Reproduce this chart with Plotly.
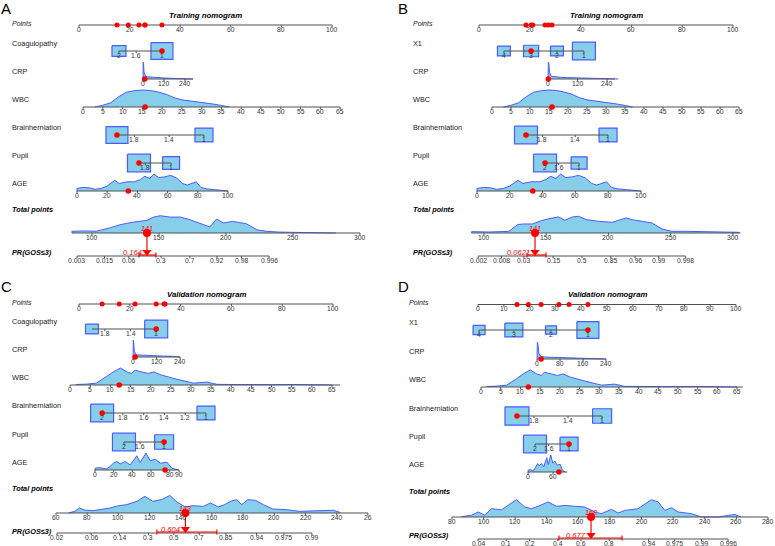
import numpy as np
import plotly.graph_objects as go

# ===================== DATA =====================
panel_letters = ["A", "B", "C", "D"]
panel_titles = ["Training nomogram", "Training nomogram",
                "Validation nomogram", "Validation nomogram"]
rows_AC = ["Coagulopathy", "CRP", "WBC", "Brainherniation", "Pupil", "AGE"]
rows_BD = ["X1", "CRP", "WBC", "Brainherniation", "Pupil", "AGE"]
pr_label = "PR(GOS≤3)"

points_ticks_A = [0, 20, 40, 60, 80, 100]
points_ticks_B = [0, 20, 40, 60, 80, 100]
points_ticks_C = [0, 20, 40, 60, 80, 100]
points_ticks_D = [0, 10, 20, 30, 40, 50, 60, 70, 80, 90, 100]

# categorical predictors: level codes, nomogram points of each level,
# relative level frequency (box size), values printed on the scale
A_coag_levels = [2, 1];  A_coag_points = [15.8, 32.8];  A_coag_freq = [0.26, 0.64];  A_coag_ticks = [2, 1.6, 1]
A_brain_levels = [2, 1]; A_brain_points = [15.0, 49.4]; A_brain_freq = [0.64, 0.43]; A_brain_ticks = [1.8, 1.4, 1]
A_pupil_levels = [2, 1]; A_pupil_points = [23.7, 36.4]; A_pupil_freq = [0.70, 0.38]; A_pupil_ticks = [1.8, 1]

B_x1_levels = [4, 3, 2, 1];  B_x1_points = [9.8, 20.5, 30.7, 41.3]; B_x1_freq = [0.22, 0.30, 0.22, 0.70]; B_x1_ticks = [4, 3, 2, 1]
B_brain_levels = [2, 1]; B_brain_points = [18.5, 50.8]; B_brain_freq = [0.70, 0.43]; B_brain_ticks = [1.8, 1.4, 1]
B_pupil_levels = [2, 1]; B_pupil_points = [26.0, 39.4]; B_pupil_freq = [0.70, 0.34]; B_pupil_ticks = [2, 1.6, 1]

C_coag_levels = [2, 1];  C_coag_points = [5.1, 30.4];   C_coag_freq = [0.22, 0.70];  C_coag_ticks = [1.8, 1.4, 1]
C_brain_levels = [2, 1]; C_brain_points = [9.1, 50.0];  C_brain_freq = [0.70, 0.43]; C_brain_ticks = [2, 1.8, 1.6, 1.4, 1.2, 1]
C_pupil_levels = [2, 1]; C_pupil_points = [17.7, 33.5]; C_pupil_freq = [0.70, 0.48]; C_pupil_ticks = [2, 1.6, 1]

D_x1_levels = [4, 3, 2, 1];  D_x1_points = [0.4, 13.9, 28.3, 42.6]; D_x1_freq = [0.19, 0.43, 0.16, 0.64]; D_x1_ticks = [4, 3, 2, 1]
D_brain_levels = [2, 1]; D_brain_points = [15.1, 48.1]; D_brain_freq = [0.76, 0.48]; D_brain_ticks = [1.8, 1.4, 1]
D_pupil_levels = [2, 1]; D_pupil_points = [22.1, 35.3]; D_pupil_freq = [0.70, 0.43]; D_pupil_ticks = [2, 1.6, 1]

# continuous predictors: two anchor values and their nomogram points, axis extent, ticks
A_crp_values = [0, 240]; A_crp_points = [25.3, 41.9]; A_crp_axis = [0, 286]; A_crp_ticks = [0, 120, 240]
A_wbc_values = [0, 65];  A_wbc_points = [1.6, 103.2]; A_wbc_axis = [0, 65]
A_age_values = [0, 100]; A_age_points = [-0.8, 58.9]; A_age_axis = [0, 100]; A_age_ticks = [0, 20, 40, 60, 80, 100]

B_crp_values = [0, 240]; B_crp_points = [27.2, 50.4]; B_crp_axis = [0, 272]; B_crp_ticks = [0, 120, 240]
B_wbc_values = [0, 65];  B_wbc_points = [5.1, 102.4]; B_wbc_axis = [0, 65]
B_age_values = [0, 100]; B_age_points = [-0.8, 63.8]; B_age_axis = [0, 100]; B_age_ticks = [0, 20, 40, 60, 80, 100]

C_crp_values = [0, 240]; C_crp_points = [21.3, 39.8]; C_crp_axis = [0, 240]; C_crp_ticks = [0, 120, 240]
C_wbc_values = [0, 65];  C_wbc_points = [-3.5, 99.6]; C_wbc_axis = [0, 67]
C_age_values = [0, 90];  C_age_points = [6.3, 39.4];  C_age_axis = [0, 90];  C_age_ticks = [0, 20, 40, 60, 80, 90]

D_crp_values = [0, 240]; D_crp_points = [22.9, 49.6]; D_crp_axis = [0, 240]; D_crp_ticks = [0, 80, 160, 240]
D_wbc_values = [0, 65];  D_wbc_points = [1.2, 100.4]; D_wbc_axis = [0, 66.5]
D_age_values = [0, 60];  D_age_points = [19.4, 29.1]; D_age_axis = [0, 94];  D_age_ticks = [0, 60]

wbc_ticks = [0, 5, 10, 15, 20, 25, 30, 35, 40, 45, 50, 55, 60, 65]

# densities of the predictors (relative heights)
train_crp_x = [0, 1, 3, 6, 10, 15, 25, 50, 80, 120, 160, 200, 240, 286]
train_crp_d = [0.0, 1.0, 0.9, 0.4, 0.2, 0.16, 0.13, 0.1, 0.08, 0.06, 0.04, 0.02, 0.01, 0.0]
train_wbc_x = [3, 5, 7, 9, 11, 13, 15, 17, 19, 21, 23, 25, 27, 29, 31, 33, 35, 37]
train_wbc_d = [0.0, 0.1, 0.25, 0.6, 0.87, 0.96, 1.0, 0.97, 0.88, 0.75, 0.55, 0.42, 0.36, 0.31, 0.25, 0.17, 0.09, 0.02]
train_age_x = [0, 4, 8, 12, 16, 20, 25, 28, 33, 38, 42, 45, 48, 51, 54, 58, 62, 66, 70, 73, 76, 79, 82, 86, 91, 100]
train_age_d = [0.15, 0.21, 0.19, 0.1, 0.15, 0.29, 0.63, 0.44, 0.54, 0.54, 0.67, 0.87, 0.73, 1.0, 0.79, 0.83,
               0.92, 0.77, 0.44, 0.35, 0.44, 0.54, 0.21, 0.12, 0.08, 0.0]
valid_crp_x = [0, 1, 3, 6, 10, 15, 25, 50, 80, 120, 160, 200, 240]
valid_crp_d = [0.0, 1.0, 0.85, 0.35, 0.2, 0.15, 0.12, 0.1, 0.09, 0.07, 0.05, 0.04, 0.02]
valid_wbc_x = [1.5, 4, 6.5, 9, 10.7, 12.5, 14.1, 15.3, 16.1, 17.8, 19.4, 20.8, 22.7, 26.5, 29, 30.6, 33.9,
               36.4, 40, 45, 50, 55, 60, 65]
valid_wbc_d = [0.03, 0.05, 0.11, 0.49, 0.77, 1.0, 0.77, 0.68, 0.87, 0.77, 0.68, 0.77, 0.58, 0.34, 0.21, 0.11,
               0.17, 0.04, 0.03, 0.01, 0.02, 0.03, 0.01, 0.03]
valid_age_x = [0, 5, 12, 16, 19.7, 23.3, 26.9, 32.3, 37.6, 43, 44.8, 48.4, 54.5, 59.1, 64.5, 69.9, 77, 82.4, 89.6]
valid_age_d = [0.1, 0.14, 0.06, 0.2, 0.4, 0.5, 0.36, 0.5, 0.3, 0.7, 0.84, 0.44, 1.0, 0.54, 0.64, 0.4, 0.46, 0.1, 0.04]

# total points scale: two anchor totals and their position in points units, extent, ticks
A_total_values = [100, 300]; A_total_points = [5.14, 111.06]; A_total_axis = [85, 300]
B_total_values = [100, 300]; B_total_points = [1.97, 99.97];  B_total_axis = [90, 306]
C_total_values = [60, 260];  C_total_points = [-9.06, 113.74]; C_total_axis = [60, 260]
D_total_values = [80, 280];  D_total_points = [-10.08, 112.4]; D_total_axis = [80, 280]
A_total_ticks = [100, 150, 200, 250, 300]
B_total_ticks = [100, 150, 200, 250, 300]
C_total_ticks = [60, 80, 100, 120, 140, 160, 180, 200, 220, 240, 260]
C_total_tick_labels = ["60", "80", "100", "120", "140", "160", "180", "200", "220", "240", "26"]
D_total_ticks = [80, 100, 120, 140, 160, 180, 200, 220, 240, 260, 280]

A_total_x = [85, 95, 103, 113, 121, 131, 141, 146, 151, 158, 166, 173, 180, 188, 193, 198, 205, 215, 223,
             230, 240, 250, 265, 282]
A_total_d = [0.1, 0.12, 0.1, 0.29, 0.48, 0.63, 0.73, 0.92, 1.0, 0.92, 0.92, 0.77, 0.58, 0.35, 0.81, 0.58, 0.67,
             0.54, 0.19, 0.1, 0.05, 0.04, 0.04, 0.03]
B_total_x = [90, 105, 120, 127, 131, 139, 147, 155, 160, 165, 171, 176, 182, 192, 203, 214, 219, 227, 235,
             243, 251, 262, 289, 305]
B_total_d = [0.08, 0.06, 0.1, 0.5, 0.54, 0.54, 0.76, 0.9, 0.96, 0.76, 0.96, 1.0, 0.8, 0.7, 0.64, 0.9, 0.8, 0.7,
             0.6, 0.24, 0.1, 0.1, 0.08, 0.04]
C_total_x = [68, 72, 75, 79, 84, 94.6, 100, 105, 112, 117, 122, 127.7, 133, 137, 142.7, 148, 154.5, 159, 164,
             168, 172, 175.8, 179, 183, 188, 193, 199, 208, 216, 229, 237.8, 242]
C_total_d = [0.0, 0.09, 0.27, 0.15, 0.13, 0.27, 0.4, 0.45, 0.64, 0.91, 0.64, 0.73, 0.96, 0.64, 0.33, 0.4, 0.36,
             0.55, 0.33, 0.45, 0.64, 0.73, 0.45, 0.73, 0.69, 0.45, 0.22, 0.18, 0.09, 0.13, 0.15, 0.04]
D_total_x = [86, 92.4, 96.6, 100.8, 105, 111.3, 115.5, 120.8, 126, 130.3, 134.5, 140.8, 146.1, 151.4, 157.7,
             164, 170.4, 174.6, 180.9, 185.1, 189.4, 197.8, 206.2, 210.5, 214.7, 218.9, 223.1, 231.6, 237.9,
             248.4, 259, 263]
D_total_d = [0.02, 0.1, 0.29, 0.1, 0.48, 0.42, 0.67, 1.0, 0.58, 0.48, 0.62, 0.87, 0.62, 0.67, 0.62, 0.58, 0.29,
             0.19, 0.44, 0.23, 0.38, 0.48, 1.0, 0.87, 0.38, 0.54, 0.29, 0.19, 0.0, 0.0, 0.15, 0.0]

# probability scale: total points at p = 0.5 and total points per logit unit, ticks
A_pr_center = 162.3; A_pr_slope = 12.66; A_pr_ticks = [0.003, 0.015, 0.06, 0.3, 0.7, 0.92, 0.98, 0.996]
B_pr_center = 178.7; B_pr_slope = 13.41; B_pr_ticks = [0.002, 0.008, 0.03, 0.15, 0.5, 0.85, 0.96, 0.99, 0.998]
C_pr_center = 135.6; C_pr_slope = 19.26; C_pr_ticks = [0.02, 0.06, 0.14, 0.3, 0.5, 0.7, 0.85, 0.94, 0.975, 0.99]
D_pr_center = 154.3; D_pr_slope = 18.2;  D_pr_ticks = [0.04, 0.1, 0.2, 0.4, 0.6, 0.8, 0.94, 0.975, 0.99, 0.996]

# highlighted patient: predictor values (row order), total points, probability, CI
A_obs = [1, 10, 15.7, 2, 2, 34];  A_total = 141; A_prob = 0.164;  A_ci = [0.104, 0.240]
B_obs = [3, 1, 15.8, 2, 2, 34];   B_total = 141; B_prob = 0.0621; B_ci = [0.036, 0.104]
C_obs = [1, 10, 12.2, 2, 1, 75];  C_total = 143; C_prob = 0.604;  C_ci = [0.362, 0.807]
D_obs = [1, 14, 12, 2, 1, 74];    D_total = 168; D_prob = 0.677;  D_ci = [0.41, 0.862]

# ===================== STYLE / LAYOUT =====================
W, H = 775, 546
FONT = "Liberation Sans, Arial, Helvetica, sans-serif"
FILL = "#87CEEB"
EDGE = "#4A5CFF"
AXC = "#505050"
TXT = "#222222"
RED = "#FF0000"
BOX_W, BOX_H = 27.5, 21.0
TICK_FS, LAB_FS, TITLE_FS = 6.8, 7.3, 7.8
NUM_H = 17

geom = [
    dict(xd=(0, 387.5), yd=(0, 273), origin=79, scale=2.53, lab_x=11, letter=(6, 8), title_y=15, pts_y=25,
         rows_y=[51, 79, 107, 135, 163, 191], total_y=233, total_lab_y=209, pr_y=256, pr_lab_y=252, total_h=17.3),
    dict(xd=(387.5, 775), yd=(0, 273), origin=479, scale=2.54, lab_x=412, letter=(403, 8), title_y=15, pts_y=25,
         rows_y=[51, 79, 107, 135, 163, 191], total_y=233, total_lab_y=209, pr_y=256, pr_lab_y=252, total_h=16.7),
    dict(xd=(0, 387.5), yd=(273, 546), origin=79, scale=2.54, lab_x=11, letter=(6, 286), title_y=294, pts_y=304,
         rows_y=[329, 357, 385, 413, 442, 470], total_y=513, total_lab_y=488, pr_y=533, pr_lab_y=531, total_h=18.3),
    dict(xd=(387.5, 775), yd=(273, 546), origin=478, scale=2.58, lab_x=408, letter=(403, 286), title_y=294,
         pts_y=304.5, rows_y=[330, 359, 387, 416, 444, 472], total_y=517, total_lab_y=491, pr_y=539,
         pr_lab_y=535, total_h=17.3),
]


def cat(levels, points, freq, ticks):
    return dict(kind="cat", levels=levels, points=points, freq=freq, ticks=ticks)


def num(values, points, axis, ticks, dx, dy):
    return dict(kind="num", values=values, points=points, axis=axis, ticks=ticks, dx=dx, dy=dy)


panels = [
    dict(points_ticks=points_ticks_A, names=rows_AC, obs=A_obs, total=A_total, prob=A_prob, ci=A_ci,
         rows=[cat(A_coag_levels, A_coag_points, A_coag_freq, A_coag_ticks),
               num(A_crp_values, A_crp_points, A_crp_axis, A_crp_ticks, train_crp_x, train_crp_d),
               num(A_wbc_values, A_wbc_points, A_wbc_axis, wbc_ticks, train_wbc_x, train_wbc_d),
               cat(A_brain_levels, A_brain_points, A_brain_freq, A_brain_ticks),
               cat(A_pupil_levels, A_pupil_points, A_pupil_freq, A_pupil_ticks),
               num(A_age_values, A_age_points, A_age_axis, A_age_ticks, train_age_x, train_age_d)],
         tv=A_total_values, tp=A_total_points, taxis=A_total_axis, tticks=A_total_ticks,
         tlabels=[f"{v:g}" for v in A_total_ticks], tdx=A_total_x, tdy=A_total_d,
         prc=A_pr_center, prs=A_pr_slope, prticks=A_pr_ticks),
    dict(points_ticks=points_ticks_B, names=rows_BD, obs=B_obs, total=B_total, prob=B_prob, ci=B_ci,
         rows=[cat(B_x1_levels, B_x1_points, B_x1_freq, B_x1_ticks),
               num(B_crp_values, B_crp_points, B_crp_axis, B_crp_ticks, train_crp_x, train_crp_d),
               num(B_wbc_values, B_wbc_points, B_wbc_axis, wbc_ticks, train_wbc_x, train_wbc_d),
               cat(B_brain_levels, B_brain_points, B_brain_freq, B_brain_ticks),
               cat(B_pupil_levels, B_pupil_points, B_pupil_freq, B_pupil_ticks),
               num(B_age_values, B_age_points, B_age_axis, B_age_ticks, train_age_x, train_age_d)],
         tv=B_total_values, tp=B_total_points, taxis=B_total_axis, tticks=B_total_ticks,
         tlabels=[f"{v:g}" for v in B_total_ticks], tdx=B_total_x, tdy=B_total_d,
         prc=B_pr_center, prs=B_pr_slope, prticks=B_pr_ticks),
    dict(points_ticks=points_ticks_C, names=rows_AC, obs=C_obs, total=C_total, prob=C_prob, ci=C_ci,
         rows=[cat(C_coag_levels, C_coag_points, C_coag_freq, C_coag_ticks),
               num(C_crp_values, C_crp_points, C_crp_axis, C_crp_ticks, valid_crp_x, valid_crp_d),
               num(C_wbc_values, C_wbc_points, C_wbc_axis, wbc_ticks, valid_wbc_x, valid_wbc_d),
               cat(C_brain_levels, C_brain_points, C_brain_freq, C_brain_ticks),
               cat(C_pupil_levels, C_pupil_points, C_pupil_freq, C_pupil_ticks),
               num(C_age_values, C_age_points, C_age_axis, C_age_ticks, valid_age_x, valid_age_d)],
         tv=C_total_values, tp=C_total_points, taxis=C_total_axis, tticks=C_total_ticks,
         tlabels=C_total_tick_labels, tdx=C_total_x, tdy=C_total_d,
         prc=C_pr_center, prs=C_pr_slope, prticks=C_pr_ticks),
    dict(points_ticks=points_ticks_D, names=rows_BD, obs=D_obs, total=D_total, prob=D_prob, ci=D_ci,
         rows=[cat(D_x1_levels, D_x1_points, D_x1_freq, D_x1_ticks),
               num(D_crp_values, D_crp_points, D_crp_axis, D_crp_ticks, valid_crp_x, valid_crp_d),
               num(D_wbc_values, D_wbc_points, D_wbc_axis, wbc_ticks, valid_wbc_x, valid_wbc_d),
               cat(D_brain_levels, D_brain_points, D_brain_freq, D_brain_ticks),
               cat(D_pupil_levels, D_pupil_points, D_pupil_freq, D_pupil_ticks),
               num(D_age_values, D_age_points, D_age_axis, D_age_ticks, valid_age_x, valid_age_d)],
         tv=D_total_values, tp=D_total_points, taxis=D_total_axis, tticks=D_total_ticks,
         tlabels=[f"{v:g}" for v in D_total_ticks], tdx=D_total_x, tdy=D_total_d,
         prc=D_pr_center, prs=D_pr_slope, prticks=D_pr_ticks),
]


def lin(v, vals, pts):
    v = np.asarray(v, dtype=float)
    return pts[0] + (v - vals[0]) * (pts[1] - pts[0]) / (vals[1] - vals[0])


def cat_map(v, levels, pts):
    lv = np.asarray(levels, float)
    p = np.asarray(pts, float)
    o = np.argsort(lv)
    return np.interp(np.asarray(v, float), lv[o], p[o])


def logit(p):
    p = np.asarray(p, float)
    return np.log(p / (1 - p))


fig = go.Figure()
ann = []
layout_axes = {}

for i, (P, G) in enumerate(zip(panels, geom)):
    xa, ya = ("x", "y") if i == 0 else (f"x{i + 1}", f"y{i + 1}")
    s, o = G["scale"], G["origin"]
    xr = [(G["xd"][0] - o) / s, (G["xd"][1] - o) / s]
    layout_axes["xaxis" if i == 0 else f"xaxis{i + 1}"] = dict(
        domain=[G["xd"][0] / W, G["xd"][1] / W], range=xr, visible=False, fixedrange=True,
        anchor=ya)
    layout_axes["yaxis" if i == 0 else f"yaxis{i + 1}"] = dict(
        domain=[1 - G["yd"][1] / H, 1 - G["yd"][0] / H], range=[G["yd"][1], G["yd"][0]],
        visible=False, fixedrange=True, anchor=xa)

    def X(px):
        return (px - o) / s

    def add(x, y, **kw):
        fig.add_trace(go.Scatter(x=list(x), y=list(y), xaxis=xa, yaxis=ya, showlegend=False,
                                 hoverinfo="skip", **kw))

    def text(x, y, t, size, color=TXT, xanchor="center", yanchor="middle"):
        ann.append(dict(x=float(x), y=float(y), xref=xa, yref=ya, text=t, showarrow=False,
                        font=dict(family=FONT, size=size, color=color),
                        xanchor=xanchor, yanchor=yanchor, borderpad=0))

    def axis_line(x0, x1, y, tx, labels, up=False, color=AXC, lab_dy=4.3):
        add([x0, x1], [y, y], mode="lines", line=dict(color=color, width=1))
        xs, ys = [], []
        for t in tx:
            xs += [float(t), float(t), None]
            ys += [y, y + (-2.2 if up else 2.2), None]
        add(xs, ys, mode="lines", line=dict(color=color, width=1))
        for t, lab in zip(tx, labels):
            text(t, y + lab_dy, lab, TICK_FS, "#333333")

    # letter and title
    text(X(G["letter"][0]), G["letter"][1], panel_letters[i], 15, "#000000")
    text(50, G["title_y"], f"<b><i>{panel_titles[i]}</i></b>", TITLE_FS, "#000000")

    # points axis
    text(X(G["lab_x"]), G["pts_y"] - 2, "<i>Points</i>", 7.0, TXT, xanchor="left")
    pt = P["points_ticks"]
    axis_line(pt[0], pt[-1], G["pts_y"], pt, [f"{v:g}" for v in pt])

    obs_pts = []
    for name, R, y, ob in zip(P["names"], P["rows"], G["rows_y"], P["obs"]):
        text(X(G["lab_x"]), y - 7.5, name, LAB_FS, TXT, xanchor="left")
        if R["kind"] == "cat":
            lvp = cat_map(R["levels"], R["levels"], R["points"])
            bx, by = [], []
            for cx, f in zip(lvp, R["freq"]):
                w = BOX_W * np.sqrt(f) / s / 2
                h = BOX_H * np.sqrt(f) / 2
                bx += [cx - w, cx + w, cx + w, cx - w, cx - w, None]
                by += [y - h, y - h, y + h, y + h, y - h, None]
            add(bx, by, mode="lines", fill="toself", fillcolor=FILL, line=dict(color=EDGE, width=1.2))
            tx = cat_map(R["ticks"], R["levels"], R["points"])
            axis_line(min(lvp), max(lvp), y, tx, [f"{v:g}" for v in R["ticks"]])
            p_ob = float(cat_map(ob, R["levels"], R["points"]))
        else:
            dxp = lin(R["dx"], R["values"], R["points"])
            dyy = y - NUM_H * np.asarray(R["dy"], float)
            add([dxp[0]] + list(dxp) + [dxp[-1]], [y] + list(dyy) + [y], mode="lines", fill="toself",
                fillcolor=FILL, line=dict(color=EDGE, width=1))
            a0, a1 = lin(R["axis"], R["values"], R["points"])
            tx = lin(R["ticks"], R["values"], R["points"])
            axis_line(a0, a1, y, tx, [f"{v:g}" for v in R["ticks"]])
            p_ob = float(lin(ob, R["values"], R["points"]))
        obs_pts.append(p_ob)
        add([p_ob], [y], mode="markers", marker=dict(color=RED, size=5.5))

    # observed points on the Points axis
    add(obs_pts, [G["pts_y"]] * len(obs_pts), mode="markers", marker=dict(color=RED, size=5))

    # total points
    ty = G["total_y"]
    text(X(G["lab_x"]), G["total_lab_y"], "<b><i>Total points</i></b>", LAB_FS, "#000000", xanchor="left")
    tdx = lin(P["tdx"], P["tv"], P["tp"])
    tdy = ty - G["total_h"] * np.asarray(P["tdy"], float)
    add([tdx[0]] + list(tdx) + [tdx[-1]], [ty] + list(tdy) + [ty], mode="lines", fill="toself",
        fillcolor=FILL, line=dict(color=EDGE, width=1))
    ta0, ta1 = lin(P["taxis"], P["tv"], P["tp"])
    axis_line(ta0, ta1, ty, lin(P["tticks"], P["tv"], P["tp"]), P["tlabels"])

    # probability axis
    py = G["pr_y"]
    text(X(G["lab_x"]), G["pr_lab_y"], f"<b><i>{pr_label}</i></b>", LAB_FS, "#000000", xanchor="left")

    def prob_x(p):
        return lin(P["prc"] + P["prs"] * logit(p), P["tv"], P["tp"])

    prx = prob_x(P["prticks"])
    axis_line(prx[0], prx[-1], py, prx, [f"{v:g}" for v in P["prticks"]])

    # highlighted patient: total, CI, arrow, labels
    tx_ob = float(lin(P["total"], P["tv"], P["tp"]))
    c0, c1 = prob_x(P["ci"])
    cy = py - 1
    add([c0, c1, None, c0, c0, None, c1, c1], [cy, cy, None, cy - 2.6, cy + 2.6, None, cy - 2.6, cy + 2.6],
        mode="lines", line=dict(color=RED, width=1.2))
    add([tx_ob, tx_ob], [ty, py - 4], mode="lines", line=dict(color=RED, width=1.2))
    add([tx_ob], [py - 4], mode="markers", marker=dict(color=RED, size=8, symbol="triangle-down"))
    add([tx_ob], [ty], mode="markers", marker=dict(color=RED, size=8))
    text(tx_ob, ty - 5, f"<i>{P['total']:g}</i>", 7.2, RED)
    text(tx_ob - 4 / s, py - 3.8, f"<i>{P['prob']:g}</i>", 7.6, RED, xanchor="right")

fig.update_layout(
    width=W, height=H, margin=dict(l=0, r=0, t=0, b=0),
    paper_bgcolor="white", plot_bgcolor="white", showlegend=False, hovermode=False,
    annotations=ann, font=dict(family=FONT), **layout_axes)

fig.write_html("out.html", config={"displayModeBar": False},
               post_script="document.body.style.margin='0px';document.body.style.overflow='hidden';")
